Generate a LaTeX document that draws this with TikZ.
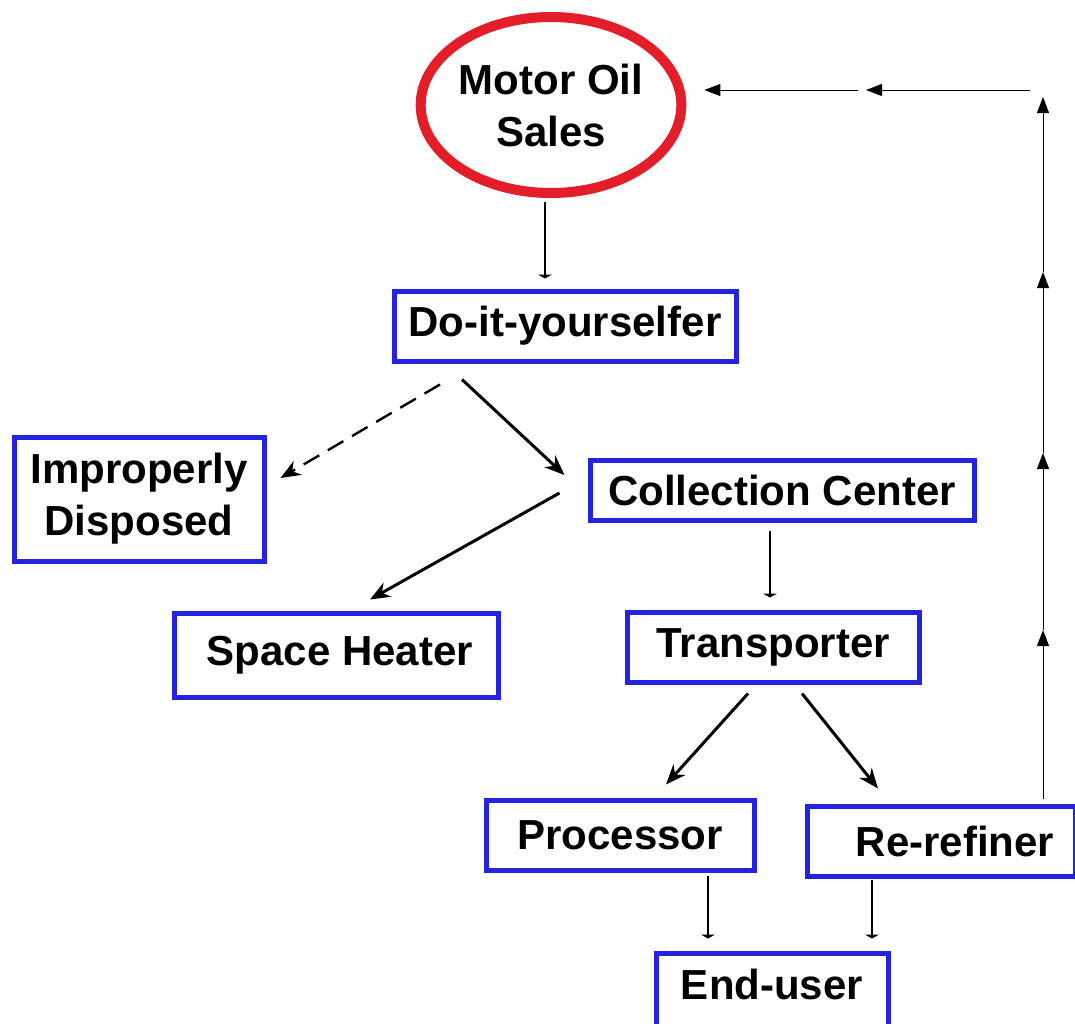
\documentclass[tikz,border=0pt]{standalone}
\usepackage{fontspec}
\setmainfont{Liberation Sans}
\usetikzlibrary{arrows.meta,shapes.geometric,calc}
\definecolor{boxblue}{RGB}{35,35,225}
\definecolor{ringred}{RGB}{228,30,40}
\begin{document}
\begin{tikzpicture}[x=0.5pt,y=-0.5pt,
  lbl/.style={font=\bfseries\fontsize{21}{26}\selectfont,align=center,inner sep=0pt},
  box/.style={lbl,draw=boxblue,line width=2.5pt},
  bigarrow/.style={line width=1.5pt,-{Stealth[length=10pt,width=8pt]}},
  thinarrow/.style={line width=0.7pt,-{Triangle[length=2pt,width=7pt]}},
  fbarrow/.style={line width=0.5pt,-{Triangle[length=8pt,width=6pt]}}]
\useasboundingbox (0,0) rectangle (1075,1023);
\node[lbl,ellipse,draw=ringred,line width=5pt,minimum width=121.5pt,minimum height=88pt] (mos) at (551,105) {Motor Oil\\Sales};
\node[box,minimum width=171pt,minimum height=35pt] (diy) at (565,326) {Do-it-yourselfer};
\node[box,minimum width=125pt,minimum height=62pt] (imp) at (139,499) {Improperly\\Disposed};
\node[box,minimum width=192pt,minimum height=30pt] (cc) at (782,490) {Collection Center};
\node[box,minimum width=162pt,minimum height=42pt] (sh) at (336,655) {\hspace*{4pt}Space Heater};
\node[box,minimum width=146pt,minimum height=35pt] (tr) at (773,647) {Transporter};
\node[box,minimum width=134pt,minimum height=35pt] (pr) at (620,835) {Processor};
\node[box,minimum width=134pt,minimum height=35pt] (rr) at (941,841) {\hspace*{14pt}Re-refiner};
\node[box,minimum width=116pt,text height=23pt,text depth=22pt,anchor=base] (eu) at (772,999) {End-user};
% main flow
\draw[thinarrow] ($(mos.south)+(-6,4)$) -- ($(diy.north)+(-20,-10)$);
\draw[bigarrow] ($(diy.south)+(-103,16)$) -- ($(cc.west)+(-23,-15)$);
\draw[bigarrow,dashed,dash pattern=on 9pt off 5pt,line width=1.2pt] ($(diy.south)+(-125,21)$) -- ($(imp.east)+(14,-21)$);
\draw[bigarrow] ($(cc.west)+(-28,3)$) -- ($(sh.north)+(34,-11)$);
\draw[thinarrow] ($(cc.south)+(-12,8)$) -- ($(tr.north)+(-3,-12)$);
\draw[bigarrow] ($(tr.south)+(-25,9)$) -- ($(pr.north)+(46,-13)$);
\draw[bigarrow] ($(tr.south)+(29,9)$) -- ($(rr.north)+(-63,-15)$);
\draw[thinarrow,line width=1pt] ($(pr.south)+(88,3)$) -- ($(eu.north)+(-64,-12)$);
\draw[thinarrow,line width=1pt] ($(rr.south)+(-69,1)$) -- ($(eu.north)+(100,-12)$);
% feedback loop
\coordinate (v0) at ($(rr.north)+(102,-5)$);
\coordinate (v1) at (1043,630);
\coordinate (v2) at (1043,453);
\coordinate (v3) at (1043,272);
\coordinate (v4) at (1043,97);
\coordinate (h0) at (1030,90);
\coordinate (h1) at (866,90);
\coordinate (h2) at (858,90);
\coordinate (h3) at ($(mos.east)+(18,-15)$);
\draw[fbarrow] (v0) -- (v1);
\draw[fbarrow] (v1) -- (v2);
\draw[fbarrow] (v2) -- (v3);
\draw[fbarrow] (v3) -- (v4);
\draw[fbarrow] (h0) -- (h1);
\draw[fbarrow] (h2) -- (h3);
\end{tikzpicture}
\end{document}
